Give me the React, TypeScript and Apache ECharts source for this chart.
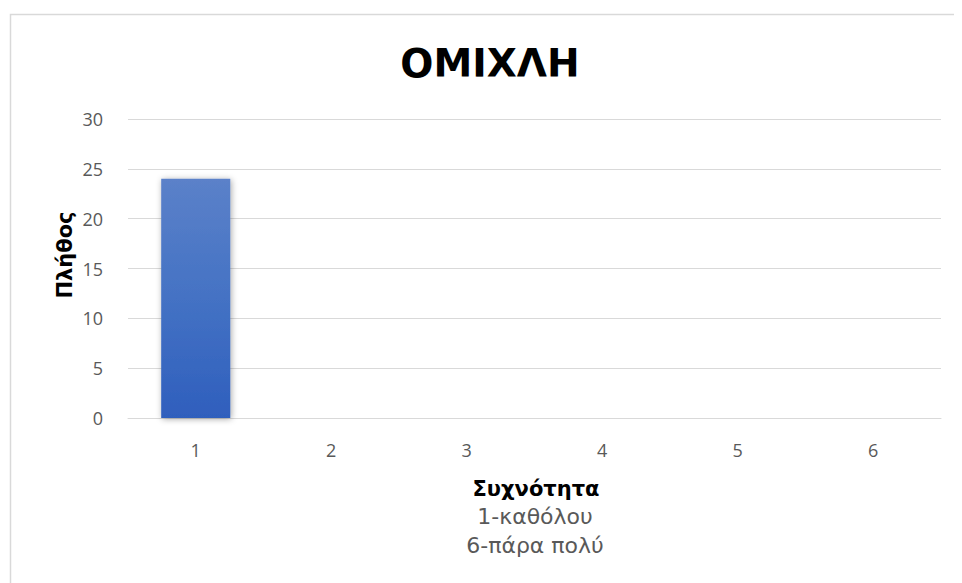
import React, { useEffect, useRef } from "react";
import * as echarts from "echarts";

const categories = ["1", "2", "3", "4", "5", "6"];
const counts = [24, 0, 0, 0, 0, 0];
const titleText = "ΟΜΙΧΛΗ";
const yName = "Πλήθος";
const xName = "Συχνότητα";
const xNoteLines = ["1-καθόλου", "6-πάρα πολύ"];

export default function App() {
  const ref = useRef<HTMLDivElement>(null);
  useEffect(() => {
    if (!ref.current) return;
    const chart = echarts.init(ref.current, null, { renderer: "svg" });
    chart.setOption({
      animation: false,
      backgroundColor: "#ffffff",
      grid: { left: 120, right: 21, top: 111, bottom: 165, containLabel: false },
      xAxis: {
        type: "category",
        data: categories,
        axisLine: { show: true, lineStyle: { color: "#d9d9d9", width: 1 } },
        axisTick: { show: false },
        axisLabel: { color: "#595959", fontSize: 18, fontFamily: "Open Sans", margin: 23 },
        splitLine: { show: false },
      },
      yAxis: {
        type: "value",
        min: 0,
        max: 30,
        interval: 5,
        axisLine: { show: false },
        axisTick: { show: false },
        axisLabel: { color: "#595959", fontSize: 18, fontFamily: "Open Sans", margin: 25 },
        splitLine: { lineStyle: { color: "#d9d9d9", width: 1 } },
      },
      graphic: [
        {
          type: "rect",
          shape: { x: 2.5, y: 6.5, width: 980, height: 600 },
          style: { fill: "none", stroke: "#d9d9d9", lineWidth: 1.5 },
          silent: true,
        },
        {
          type: "text",
          x: 482,
          y: 55,
          style: {
            text: titleText,
            textAlign: "center",
            textVerticalAlign: "middle",
            fontFamily: "DejaVu Sans",
            fontWeight: "bold",
            fontSize: 39,
            fill: "#000000",
          },
        },
        {
          type: "text",
          x: 57,
          y: 247,
          rotation: Math.PI / 2,
          style: {
            text: yName,
            textAlign: "center",
            textVerticalAlign: "middle",
            fontFamily: "DejaVu Sans",
            fontWeight: "bold",
            fontSize: 21,
            fill: "#000000",
          },
        },
        {
          type: "text",
          x: 528,
          y: 481,
          style: {
            text: xName,
            textAlign: "center",
            textVerticalAlign: "middle",
            fontFamily: "DejaVu Sans",
            fontWeight: "bold",
            fontSize: 21,
            fill: "#000000",
          },
        },
        {
          type: "text",
          x: 527,
          y: 508,
          style: {
            text: xNoteLines[0],
            textAlign: "center",
            textVerticalAlign: "middle",
            fontFamily: "DejaVu Sans",
            fontSize: 22,
            fill: "#595959",
          },
        },
        {
          type: "text",
          x: 527,
          y: 537,
          style: {
            text: xNoteLines[1],
            textAlign: "center",
            textVerticalAlign: "middle",
            fontFamily: "DejaVu Sans",
            fontSize: 22,
            fill: "#595959",
          },
        },
      ],
      series: [
        {
          type: "bar",
          data: counts,
          barWidth: "51%",
          itemStyle: {
            color: new echarts.graphic.LinearGradient(0, 0, 0, 1, [
              { offset: 0, color: "#5b81c9" },
              { offset: 0.5, color: "#4472c4" },
              { offset: 1, color: "#2f5fbd" },
            ]),
            shadowColor: "rgba(0,0,0,0.35)",
            shadowBlur: 6,
            shadowOffsetX: 1,
            shadowOffsetY: 1,
          },
        },
      ],
    });
    return () => chart.dispose();
  }, []);
  return <div ref={ref} style={{ width: 954, height: 575 }} />;
}
